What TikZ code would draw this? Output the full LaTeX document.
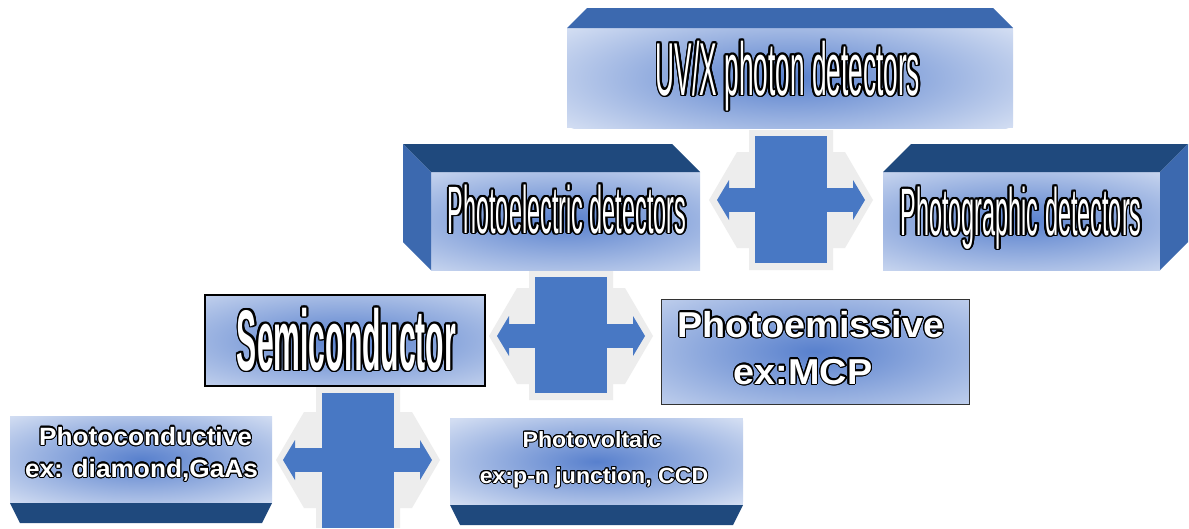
\documentclass[tikz,border=0pt]{standalone}
\usepackage{fontspec}
\setmainfont{Liberation Sans}
\newfontfamily\condfont[FakeStretch=0.35]{Liberation Sans}
\newfontfamily\roundfont[FakeStretch=1.05]{Liberation Sans}
\usepackage[copies]{contour}
\usetikzlibrary{arrows.meta}

\definecolor{facelight}{RGB}{210,221,242}
\definecolor{glowblue}{RGB}{88,128,205}
\definecolor{navy}{RGB}{31,73,125}
\definecolor{sideblue}{RGB}{60,105,175}
\definecolor{arrowblue}{RGB}{72,120,196}
\definecolor{glowgray}{RGB}{237,237,237}

\begin{document}
\begin{tikzpicture}[x=1pt, y=-1pt,
  face/.style 2 args={fill=facelight, inner sep=0pt, outer sep=0pt,
    path picture={\shade[inner color=glowblue, outer color=facelight]
      (path picture bounding box.center) ellipse [x radius=#1, y radius=#2];}},
  framed/.style={draw=black, line width=1.2pt},
  label/.style={text=white, inner sep=0pt, anchor=base},
  link/.style={draw=arrowblue, line width=24pt,
    {Triangle[length=12pt,width=40pt,line width=0pt]}-{Triangle[length=12pt,width=40pt,line width=0pt]}},
  bar/.style={fill=arrowblue},
  halo/.style={fill=glowgray}]
  \useasboundingbox (0,0) rectangle (1189,528);
  \fill[white] (0,0) rectangle (1189,528);

  % grey halos behind the crosses
  \fill[halo] (709,200) -- (737,152) -- (749,152) -- (749,130) -- (833,130) -- (833,152) -- (845,152) -- (873,200)
    -- (845,248) -- (833,248) -- (833,270) -- (749,270) -- (749,248) -- (737,248) -- cycle;
  \fill[halo] (489,336) -- (517,288) -- (529,288) -- (529,271) -- (613,271) -- (613,288) -- (625,288) -- (653,336)
    -- (625,384) -- (613,384) -- (613,400) -- (529,400) -- (529,384) -- (517,384) -- cycle;
  \fill[halo] (276,460) -- (304,412) -- (316,412) -- (316,387) -- (400,387) -- (400,412) -- (412,412) -- (440,460)
    -- (412,508) -- (400,508) -- (400,528) -- (316,528) -- (316,508) -- (304,508) -- cycle;

  % boxes
  \node[face={280pt}{80pt}, minimum width=446pt, minimum height=100pt] (uvx) at (790,78) {};
  \fill[sideblue] (uvx.north west) -- (uvx.north east) -- ([shift={(-20,-20)}]uvx.north east)
    -- ([shift={(20,-20)}]uvx.north west) -- cycle;

  \node[face={240pt}{70pt}, minimum width=269pt, minimum height=98pt] (pe) at (565.5,221) {};
  \fill[navy] (pe.north west) -- (pe.north east) -- ([shift={(-28,-28)}]pe.north east)
    -- ([shift={(-28,-28)}]pe.north west) -- cycle;
  \fill[sideblue] (pe.north west) -- ([shift={(-28,-28)}]pe.north west)
    -- ([shift={(-28,-28)}]pe.south west) -- (pe.south west) -- cycle;

  \node[face={240pt}{70pt}, minimum width=277pt, minimum height=98pt] (pg) at (1021.5,221) {};
  \fill[navy] (pg.north west) -- (pg.north east) -- ([shift={(28,-28)}]pg.north east)
    -- ([shift={(28,-28)}]pg.north west) -- cycle;
  \fill[sideblue] (pg.north east) -- ([shift={(28,-28)}]pg.north east)
    -- ([shift={(28,-28)}]pg.south east) -- (pg.south east) -- cycle;

  \node[face={250pt}{70pt}, framed, minimum width=280pt, minimum height=91pt] (semi) at (345,340.5) {};
  \node[face={260pt}{90pt}, draw=black!80, line width=1pt, minimum width=308pt, minimum height=105pt] (pem) at (815,351.5) {};

  \node[face={190pt}{60pt}, minimum width=262pt, minimum height=87pt] (pc) at (141,459.5) {};
  \fill[navy] (pc.south west) -- (pc.south east) -- ([shift={(-10,20)}]pc.south east)
    -- ([shift={(10,20)}]pc.south west) -- cycle;

  \node[face={200pt}{60pt}, minimum width=293pt, minimum height=87pt] (pv) at (596.5,461.5) {};
  \fill[navy] (pv.south west) -- (pv.south east) -- ([shift={(-10,20)}]pv.south east)
    -- ([shift={(10,20)}]pv.south west) -- cycle;

  % crosses
  \coordinate (a1) at (791,200);
  \coordinate (a2) at (571,336);
  \coordinate (a3) at (358,460);
  \draw[link, shorten <=17pt, shorten >=18pt] (pe.east |- a1) -- (pg.west |- a1);
  \fill[bar] (755,136) rectangle (827,263);
  \draw[link, shorten <=12pt, shorten >=16pt] (semi.east |- a2) -- (pem.west |- a2);
  \fill[bar] (535,277) rectangle (607,393);
  \draw[link, shorten <=11pt, shorten >=18pt] (pc.east |- a3) -- (pv.west |- a3);
  \fill[bar] (322,393) rectangle (394,528);

  % texts
  \node[label, font=\condfont\fontsize{75pt}{80pt}\selectfont\contourlength{1.8pt}] (uvx-t) at (788,95)
    {\contour{black}{UV/X photon detectors}};
  \node[label, font=\condfont\fontsize{67pt}{72pt}\selectfont\contourlength{1.8pt}] (pe-t) at (567,233)
    {\contour{black}{Photoelectric detectors}};
  \node[label, font=\condfont\fontsize{67pt}{72pt}\selectfont\contourlength{1.8pt}] (pg-t) at (1021,235)
    {\contour{black}{Photographic detectors}};
  \node[label, font=\condfont\bfseries\fontsize{86pt}{90pt}\selectfont\contourlength{1.8pt}] (semi-t) at (346.5,370)
    {\contour{black}{Semiconductor}};
  \node[label, font=\roundfont\bfseries\fontsize{36pt}{40pt}\selectfont\contourlength{1.3pt}] (pem-t1) at (811,337)
    {\contour{black}{Photoemissive}};
  \node[label, font=\roundfont\bfseries\fontsize{36pt}{40pt}\selectfont\contourlength{1.3pt}] (pem-t2) at (803,384)
    {\contour{black}{ex:MCP}};
  \node[label, font=\roundfont\bfseries\fontsize{25pt}{28pt}\selectfont\contourlength{1.1pt}] (pc-t1) at (145.5,445)
    {\contour{black}{Photoconductive}};
  \node[label, font=\roundfont\bfseries\fontsize{25pt}{28pt}\selectfont\contourlength{1.1pt}] (pc-t2) at (141.5,477)
    {\contour{black}{ex: diamond,GaAs}};
  \node[label, font=\roundfont\bfseries\fontsize{22pt}{26pt}\selectfont\contourlength{1pt}] (pv-t1) at (592,447)
    {\contour{black}{Photovoltaic}};
  \node[label, font=\roundfont\bfseries\fontsize{22pt}{26pt}\selectfont\contourlength{1pt}] (pv-t2) at (594,483)
    {\contour{black}{ex:p-n junction, CCD}};
\end{tikzpicture}
\end{document}
